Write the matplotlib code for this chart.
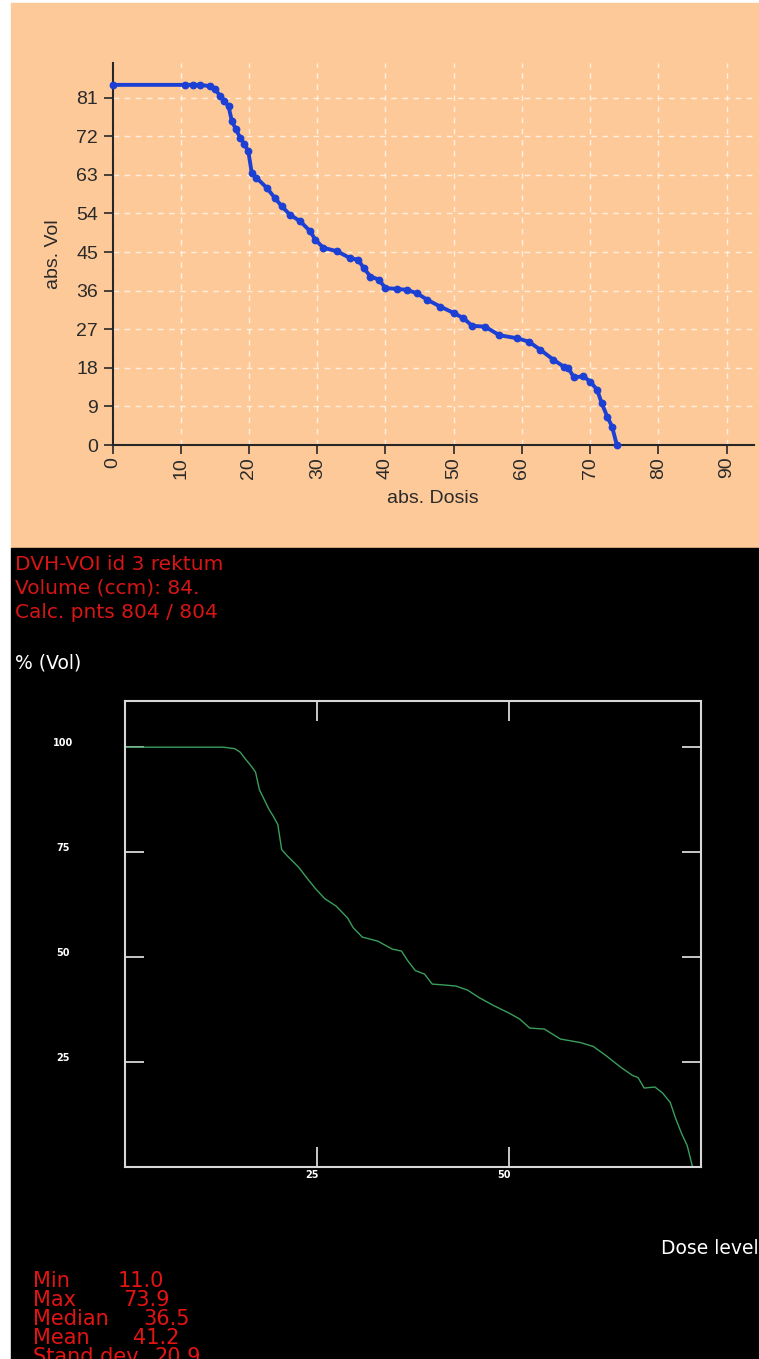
import matplotlib
matplotlib.use('Agg')
import matplotlib.pyplot as plt
from matplotlib.patches import Rectangle

# DVH of the rectum: dose (Gy) vs absolute volume (ccm)
dose = [0, 10.6, 11.8, 12.8, 14.3, 15.0, 15.8, 16.4, 17.0, 17.5, 18.1, 18.7,
        19.3, 19.9, 20.4, 21.1, 22.6, 23.8, 24.8, 26.0, 27.5, 29.0, 29.7, 30.9,
        32.9, 34.8, 36.0, 36.8, 37.8, 39.0, 40.0, 41.7, 43.1, 44.6, 46.1, 48.0,
        50.0, 51.4, 52.7, 54.6, 56.7, 59.3, 61.0, 62.7, 64.6, 66.1, 66.8, 67.6,
        69.0, 70.0, 71.0, 71.7, 72.5, 73.2, 73.9]
vol = [84, 84, 84, 84, 83.7, 83.0, 81.4, 80.3, 79.0, 75.5, 73.6, 71.7,
       70.2, 68.5, 63.5, 62.3, 60.0, 57.6, 55.7, 53.7, 52.2, 49.8, 47.9, 46.0,
       45.2, 43.6, 43.2, 41.3, 39.3, 38.6, 36.6, 36.4, 36.2, 35.4, 33.9, 32.3,
       30.8, 29.6, 27.8, 27.6, 25.6, 24.9, 24.1, 22.2, 19.9, 18.3, 17.9, 15.8,
       16.0, 14.8, 12.9, 9.7, 6.6, 4.3, 0]
total_vol = 84.0
vol_pct = [v / total_vol * 100 for v in vol]

x_ticks_top = list(range(0, 100, 10))
y_ticks_top = list(range(0, 90, 9))
x_ticks_bot = [25, 50]
y_ticks_bot = [25, 50, 75, 100]

header_lines = ['DVH-VOI id 3 rektum', 'Volume (ccm): 84.', 'Calc. pnts 804 / 804']
stat_names = ['Min', 'Max', 'Median', 'Mean', 'Stand dev']
stat_values = ['11.0', '73.9', '36.5', '41.2', '20.9']

W, H = 759, 1359
fig = plt.figure(figsize=(W / 100, H / 100), dpi=100)
fig.patch.set_facecolor('white')


def box(x0, y0, x1, y1):
    # pixel box, origin top-left -> figure fraction rect
    return [x0 / W, 1 - y1 / H, (x1 - x0) / W, (y1 - y0) / H]


def at(x, y):
    return x / W, 1 - y / H


# panel backgrounds
for rect, col in [(box(11, 3, W, 548), '#fec998'), (box(11, 548, W, H), 'black')]:
    fig.add_artist(Rectangle((rect[0], rect[1]), rect[2], rect[3],
                             transform=fig.transFigure, color=col, zorder=-1))

# ---- upper chart: absolute volume ----
ax1 = fig.add_axes(box(112.5, 63, 754, 445))
ax1.patch.set_alpha(0)
ax1.set_xlim(0, 94)
ax1.set_ylim(0, 89.1)
for s in ['top', 'right']:
    ax1.spines[s].set_visible(False)
for s in ['left', 'bottom']:
    ax1.spines[s].set_color('#262626')
    ax1.spines[s].set_linewidth(1.5)
ax1.set_xticks(x_ticks_top)
ax1.set_yticks(y_ticks_top)
ax1.tick_params(direction='out', length=6.5, width=1.2, color='#262626',
                labelsize=14, labelcolor='#2a2a2a')
ax1.tick_params(axis='x', labelrotation=90, pad=2)
ax1.tick_params(axis='y', pad=4)
for lab in ax1.get_xticklabels() + ax1.get_yticklabels():
    lab.set_family('Liberation Sans')
ax1.grid(True, color='white', ls=(0, (4, 4)), lw=1, alpha=0.7)
ax1.set_xlabel('abs. Dosis', fontsize=14, family='Liberation Sans', color='#2a2a2a', labelpad=8)
ax1.set_ylabel('abs. Vol', fontsize=14, family='Liberation Sans', color='#2a2a2a', labelpad=10)
ax1.plot(dose, vol, '-o', color='#1c3fd4', lw=2.8, ms=4.6, clip_on=False, zorder=3)

# ---- lower chart: relative volume ----
ax2 = fig.add_axes(box(125, 701, 701, 1167))
ax2.patch.set_alpha(0)
ax2.set_xlim(0, 75)
ax2.set_ylim(0, 111)
for s in ax2.spines.values():
    s.set_color('#d8d8d8')
    s.set_linewidth(1.5)
ax2.set_xticks(x_ticks_bot)
ax2.set_yticks(y_ticks_bot)
ax2.tick_params(axis='x', direction='in', length=14.4, width=1.3, color='#d8d8d8',
                top=True, labelbottom=False)
ax2.tick_params(axis='y', direction='in', length=13.7, width=1.3, color='#d8d8d8',
                right=True, labelleft=False)
for v in y_ticks_bot:
    ax2.annotate(str(v), xy=(0, v), xycoords=('axes fraction', 'data'),
                 xytext=(-44.6, 3), textcoords='offset points', ha='center', va='center',
                 color='white', fontsize=7, fontweight='bold')
for v in x_ticks_bot:
    ax2.annotate(str(v), xy=(v, 0), xycoords=('data', 'axes fraction'),
                 xytext=(1, -2), textcoords='offset points', ha='right', va='top',
                 color='white', fontsize=7, fontweight='bold')
ax2.plot(dose, vol_pct, color='#3a9f5c', lw=1)

# ---- annotations ----
for i, line in enumerate(header_lines):
    fig.text(*at(15, 564 + 24.5 * i), line, color='#d61616', fontsize=14.5,
             ha='left', va='center')
fig.text(*at(15, 663), '% (Vol)', color='white', fontsize=13.5, ha='left', va='center')
fig.text(*at(661, 1249), 'Dose level', color='white', fontsize=13.5, ha='left', va='center')

value_x = [118, 123, 143, 133, 155]
for i, (name, val) in enumerate(zip(stat_names, stat_values)):
    y = 1281 + 19 * i
    fig.text(*at(33, y), name, color='#e31414', fontsize=15, ha='left', va='center')
    fig.text(*at(value_x[i], y), val, color='#e31414', fontsize=15, ha='left', va='center')

fig.savefig('out.png', dpi=100, facecolor=fig.get_facecolor())
